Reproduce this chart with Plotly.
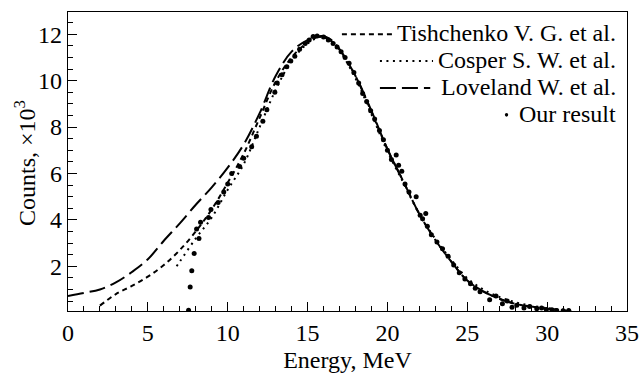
import plotly.graph_objects as go

# Model curves (energy in MeV, counts in thousands)
tish_e = [2.0, 3.0, 4.0, 5.0, 6.0, 7.0, 8.0, 9.0, 10.0, 11.0, 12.0, 13.0, 14.0, 15.0, 15.8,
          16.5, 17.0, 18.0, 19.0, 20.0, 21.0, 22.0, 23.0, 24.0, 25.0, 26.0, 27.0, 28.0, 29.0, 30.0, 31.0, 31.5]
tish_c = [0.3, 0.8, 1.15, 1.55, 2.05, 2.7, 3.5, 4.45, 5.6, 6.85, 8.4, 9.95, 11.0, 11.65, 11.9,
          11.7, 11.35, 10.2, 8.65, 7.05, 5.65, 4.25, 3.13, 2.2, 1.38, 0.92, 0.6, 0.38, 0.26, 0.17, 0.1, 0.06]

cosp_e = [6.8, 7.0, 8.0, 9.0, 10.0, 11.0, 12.0, 13.0, 14.0, 15.0, 15.9,
          16.5, 17.0, 18.0, 19.0, 20.0, 21.0, 22.0, 23.0, 24.0, 25.0, 26.0, 27.0, 28.0, 29.0, 30.0, 31.0]
cosp_c = [2.0, 2.2, 3.2, 4.1, 5.3, 6.4, 8.0, 9.6, 10.85, 11.6, 11.9,
          11.7, 11.3, 10.1, 8.55, 6.95, 5.6, 4.25, 3.18, 2.28, 1.48, 1.0, 0.68, 0.45, 0.3, 0.2, 0.12]

love_e = [0.0, 1.0, 2.0, 3.0, 4.0, 5.0, 6.0, 7.0, 8.0, 9.0, 10.0, 11.0, 12.0, 13.0, 14.0, 15.0, 15.9,
          16.5, 17.0, 18.0, 19.0, 20.0, 21.0, 22.0, 23.0, 24.0, 25.0, 26.0, 27.0, 28.0, 29.0, 30.0, 31.0, 31.5]
love_c = [0.72, 0.85, 1.0, 1.3, 1.75, 2.3, 3.1, 3.85, 4.65, 5.4, 6.25, 7.25, 8.6, 10.2, 11.25, 11.75, 11.92,
          11.75, 11.35, 10.2, 8.7, 7.05, 5.65, 4.25, 3.13, 2.2, 1.38, 0.92, 0.6, 0.38, 0.26, 0.17, 0.1, 0.06]

# Measured spectrum
our_e = [7.55, 7.65, 7.75, 7.9, 8.05, 8.2, 8.3, 8.8, 8.95, 9.4, 9.75, 10.0, 10.25, 10.75, 11.0,
         11.5, 11.8, 12.2, 12.45, 12.95, 13.1, 13.4, 13.7, 13.95, 14.2, 14.5, 14.85, 15.1, 15.35, 15.6,
         16.0, 16.3, 16.6, 16.85, 17.1, 17.35, 17.6, 17.9, 18.2, 18.45, 18.7, 18.95, 19.2, 19.5, 19.75,
         20.0, 20.25, 20.55, 20.7, 20.9, 21.1, 21.35, 21.8, 22.05, 22.2, 22.4, 22.5, 22.75, 23.1, 23.45,
         23.8, 24.15, 24.5, 24.85, 25.2, 25.5, 25.8, 26.4, 26.8, 27.2, 27.5, 27.8, 28.1, 28.55, 28.9,
         29.35, 29.65, 29.95, 30.3, 30.6, 31.0, 31.35]
our_c = [0.1, 1.1, 1.8, 2.55, 3.6, 3.2, 3.9, 4.1, 4.45, 4.75, 5.2, 5.55, 6.0, 6.3, 6.65,
         7.15, 7.6, 8.25, 8.75, 9.5, 9.9, 10.25, 10.6, 10.85, 11.05, 11.35, 11.6, 11.75, 11.9, 11.92,
         11.88, 11.75, 11.6, 11.45, 11.25, 11.0, 10.75, 10.35, 9.9, 9.45, 9.1, 8.7, 8.35, 7.85, 7.45,
         7.0, 6.6, 6.8, 6.35, 6.1, 5.55, 5.2, 5.0, 4.2, 4.05, 4.27, 3.72, 3.36, 3.05, 2.75,
         2.43, 2.05, 1.72, 1.45, 1.25, 1.05, 0.9, 0.56, 0.72, 0.38, 0.5, 0.23, 0.32, 0.2, 0.26,
         0.17, 0.2, 0.13, 0.12, 0.09, 0.08, 0.09]

y_ticks = [2, 4, 6, 8, 10, 12]
x_ticks = [0, 5, 10, 15, 20, 25, 30, 35]

FONT = "Liberation Serif"
FS = 24
TISH_DASH = "5px,4px"
COSP_DASH = "2px,4.5px"
LOVE_DASH = "16px,6px"

fig = go.Figure()
fig.add_trace(go.Scatter(x=love_e, y=love_c, mode="lines", line_shape="spline",
                         line=dict(color="black", width=2, dash=LOVE_DASH), name="Loveland W. et al."))
fig.add_trace(go.Scatter(x=tish_e, y=tish_c, mode="lines", line_shape="spline",
                         line=dict(color="black", width=2, dash=TISH_DASH), name="Tishchenko V. G. et al."))
fig.add_trace(go.Scatter(x=cosp_e, y=cosp_c, mode="lines", line_shape="spline",
                         line=dict(color="black", width=2, dash=COSP_DASH), name="Cosper S. W. et al."))
fig.add_trace(go.Scatter(x=our_e, y=our_c, mode="markers",
                         marker=dict(color="black", size=5), name="Our result"))

axis_common = dict(showline=True, linecolor="black", linewidth=1.3, mirror=True,
                   ticks="inside", ticklen=9, tickwidth=1.2, tickcolor="black",
                   showgrid=False, zeroline=False, automargin=False,
                   tickfont=dict(family=FONT, size=FS, color="black"))

fig.update_xaxes(range=[0, 35], tickvals=x_ticks,
                 minor=dict(dtick=1, ticks="inside", ticklen=5, tickwidth=1.1, tickcolor="black"),
                 title=dict(text="Energy, MeV", font=dict(family=FONT, size=FS, color="black"), standoff=6),
                 **axis_common)
fig.update_yaxes(range=[0.07, 12.96], tickvals=y_ticks,
                 minor=dict(dtick=0.5, tick0=0, ticks="inside", ticklen=5, tickwidth=1.1, tickcolor="black"),
                 **axis_common)

# Y-axis title placed as rotated text beside the tick labels
fig.add_annotation(xref="paper", yref="paper", x=-0.077, y=0.495, text="Counts, ×10<sup>3</sup>",
                   textangle=-90, showarrow=False, xanchor="center", yanchor="middle",
                   font=dict(family=FONT, size=FS, color="black"))

# Legend drawn as text rows with line samples, right-aligned
legend_rows = [
    ("Tishchenko V. G. et al.", TISH_DASH, 0.490, 0.581, 0.926),
    ("Cosper S. W. et al.", COSP_DASH, 0.558, 0.653, 0.836),
    ("Loveland W. et al.", LOVE_DASH, 0.558, 0.648, 0.746),
]
for text, dash, x0, x1, yy in legend_rows:
    fig.add_shape(type="line", xref="paper", yref="paper", x0=x0, x1=x1, y0=yy, y1=yy,
                  line=dict(color="black", width=2, dash=dash))
    fig.add_annotation(xref="paper", yref="paper", x=0.984, y=yy + 0.003, text=text, showarrow=False,
                       xanchor="right", yanchor="middle", font=dict(family=FONT, size=FS, color="black"))
fig.add_annotation(xref="paper", yref="paper", x=0.984, y=0.659, text="Our result", showarrow=False,
                   xanchor="right", yanchor="middle", font=dict(family=FONT, size=FS, color="black"))
fig.add_shape(type="circle", xref="paper", yref="paper", x0=0.7815, x1=0.7875, y0=0.650, y1=0.662,
              fillcolor="black", line=dict(width=0))

fig.update_layout(width=641, height=375, margin=dict(l=68, r=14, t=12, b=64),
                  paper_bgcolor="white", plot_bgcolor="white", showlegend=False,
                  font=dict(family=FONT, color="black"))

fig.write_html("out.html")
